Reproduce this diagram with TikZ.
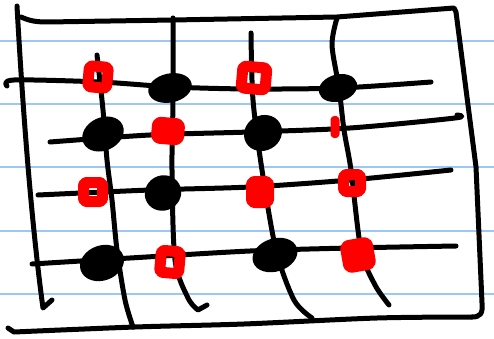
\documentclass[tikz,border=0pt]{standalone}
\usetikzlibrary{shapes.geometric}
\definecolor{ruled}{RGB}{155,200,245}
\begin{document}
\begin{tikzpicture}[x=1pt, y=-1pt, line cap=round, line join=round,
  ink/.style={line width=5pt},
  blackdot/.style={ellipse, draw, fill=black, line width=4pt, inner sep=0pt},
  redmark/.style={draw=red, line width=11pt, rounded corners=3pt, inner sep=0pt},
  redfill/.style={redmark, fill=red}]
  \useasboundingbox (0,0) rectangle (494,339);

  % Ruled paper lines
  \foreach \y in {41,104,167,231,294}
    \draw[ruled, line width=2pt] (0,\y) -- (494,\y);

  % Outer frame
  \draw[ink] (17,6) .. controls (25,150) and (35,250) .. (43,308) -- (52,300);
  \draw[ink] (21,17) .. controls (30,21) and (36,22) .. (48,22) -- (173,20) -- (337,17) -- (454,8)
    -- (456,12) -- (476,167) -- (482,303) .. controls (483,314) and (480,317) .. (472,317);
  \draw[ink] plot[smooth] coordinates {(472,317) (377,318) (244,324) (135,327) (14,332)} -- (8,328);

  % Horizontal grid lines
  \draw[ink] plot[smooth] coordinates {(7,86) (14,80) (100,82) (173,87) (250,89) (340,88) (431,82)};
  \draw[ink] plot[smooth] coordinates {(50,142) (150,135) (250,132) (350,128) (455,118) (457,115)};
  \draw[ink] plot[smooth] coordinates {(38,195) (150,190) (250,187) (350,180) (451,170)};
  \draw[ink] plot[smooth] coordinates {(32,264) (130,258) (250,251) (350,248) (456,246)};

  % Vertical grid lines
  \draw[ink] plot[smooth] coordinates {(97,55) (103,110) (107,160) (112,200) (117,250) (125,300) (133,327)};
  \draw[ink] plot[smooth] coordinates {(173,18) (173,100) (172,170) (175,260) (188,298) (198,310)} -- (207,305);
  \draw[ink] plot[smooth] coordinates {(251,33) (253,100) (262,170) (276,250) (294,300) (312,318)};
  \draw[ink] plot[smooth] coordinates {(337,18) (332,45) (339,88) (344,130) (351,170) (361,250) (375,285) (389,305)};

  % Black marks
  \node[blackdot, minimum width=40pt, minimum height=25pt, rotate=12] (b12) at (170,88) {};
  \node[blackdot, minimum width=35pt, minimum height=23pt, rotate=15] (b14) at (338,88) {};
  \node[blackdot, minimum width=39pt, minimum height=29pt, rotate=25] (b21) at (103,134) {};
  \node[blackdot, minimum width=35pt, minimum height=31pt, rotate=30] (b23) at (263,133) {};
  \node[blackdot, minimum width=33pt, minimum height=31pt, rotate=30] (b32) at (163,193) {};
  \node[blackdot, minimum width=41pt, minimum height=31pt, rotate=20] (b41) at (102,263) {};
  \node[blackdot, minimum width=42pt, minimum height=29pt, rotate=18] (b43) at (275,255) {};

  % Red marks
  \node[redmark, minimum width=19pt, minimum height=21pt, rotate=-5] (r11) at (98,77) {};
  \node[redmark, minimum width=24pt, minimum height=22pt, rotate=-5] (r13) at (254,78) {};
  \node[redfill, minimum width=22pt, minimum height=16pt, rotate=-5] (r22) at (168,131) {};
  \node[redfill, line width=4pt, rounded corners=2pt, minimum width=5pt, minimum height=18pt] (r24) at (335,127) {};
  \node[redmark, minimum width=19pt, minimum height=19pt] (r31) at (93,192) {};
  \node[redfill, minimum width=17pt, minimum height=21pt] (r33) at (260,192) {};
  \node[redmark, minimum width=17pt, minimum height=17pt] (r34) at (352,183) {};
  \node[redmark, minimum width=19pt, minimum height=22pt, rotate=-5] (r42) at (170,262) {};
  \node[redfill, minimum width=22pt, minimum height=22pt, rotate=10] (r44) at (358,255) {};
\end{tikzpicture}
\end{document}
